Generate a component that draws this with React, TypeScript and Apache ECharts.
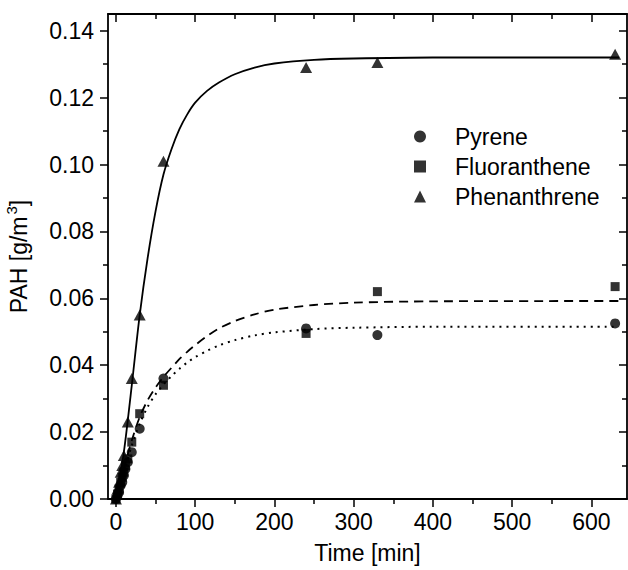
import React, { useEffect, useRef } from "react";
import * as echarts from "echarts";

// Measured data (time in min, PAH in g/m3)
const pyreneTime = [0, 2, 4, 6, 8, 10, 12, 15, 20, 30, 60, 240, 330, 630];
const pyreneVal = [0, 0.001, 0.002, 0.004, 0.005, 0.007, 0.009, 0.011, 0.014, 0.021, 0.036, 0.051, 0.049, 0.0525];

const fluorTime = [0, 2, 4, 6, 8, 10, 12, 15, 20, 30, 60, 240, 330, 630];
const fluorVal = [0, 0.0015, 0.003, 0.005, 0.0065, 0.008, 0.01, 0.012, 0.017, 0.0255, 0.034, 0.0495, 0.062, 0.0635];

const phenTime = [0, 2, 4, 6, 8, 10, 15, 20, 30, 60, 240, 330, 630];
const phenVal = [0, 0.003, 0.005, 0.008, 0.01, 0.013, 0.023, 0.036, 0.055, 0.101, 0.129, 0.1305, 0.133];

// Fitted curves
const phenFitTime = [0, 10, 20, 30, 40, 50, 60, 70, 80, 90, 100, 115, 130, 150, 175, 200, 250, 300, 400, 635];
const phenFitVal = [0, 0.014, 0.034, 0.055, 0.072, 0.086, 0.097, 0.1045, 0.1105, 0.115, 0.1185, 0.122, 0.1245, 0.127, 0.129, 0.1302, 0.1313, 0.1317, 0.132, 0.132];

const fluorFitTime = [0, 10, 20, 30, 40, 50, 60, 70, 80, 90, 100, 115, 130, 150, 175, 200, 250, 300, 400, 635];
const fluorFitVal = [0, 0.009, 0.0175, 0.0245, 0.0295, 0.0333, 0.0365, 0.0392, 0.0418, 0.044, 0.046, 0.0487, 0.051, 0.0532, 0.0552, 0.0566, 0.058, 0.0587, 0.0591, 0.0592];

const pyrFitTime = [0, 10, 20, 30, 40, 50, 60, 70, 80, 90, 100, 115, 130, 150, 175, 200, 250, 300, 400, 635];
const pyrFitVal = [0, 0.008, 0.016, 0.0225, 0.0275, 0.0313, 0.0342, 0.0367, 0.0389, 0.0408, 0.0424, 0.0443, 0.0459, 0.0475, 0.0489, 0.0498, 0.0508, 0.0512, 0.0515, 0.0515];

// Ticks
const xMajor = [0, 100, 200, 300, 400, 500, 600];
const xMinor = [50, 150, 250, 350, 450, 550];
const yMajor = [0, 0.02, 0.04, 0.06, 0.08, 0.1, 0.12, 0.14];
const yMinor = [0.01, 0.03, 0.05, 0.07, 0.09, 0.11, 0.13];

const zip = (a: number[], b: number[]) => a.map((v, i) => [v, b[i]]);

const FONT = "Liberation Sans";
const FS = 23;
const BLACK = "#000";

export default function App() {
  const ref = useRef<HTMLDivElement>(null);
  useEffect(() => {
    document.body.style.margin = "0";
    const chart = echarts.init(ref.current!, null, { renderer: "svg" });
    const X_MIN = -10;
    const X_MAX = 645;
    const Y_MIN = 0;
    const Y_MAX = 0.145;
    const lineStyle = { color: BLACK, width: 1.8 };
    const baseX = (position: string, ticks: number[], len: number, inside: boolean, showLine: boolean, labels: boolean, extra: any = {}) => ({
      type: "value",
      position,
      min: X_MIN,
      max: X_MAX,
      axisLine: { show: showLine, lineStyle, onZero: false },
      axisTick: { show: true, customValues: ticks, length: len, inside, lineStyle: { color: BLACK, width: 1.5 } },
      axisLabel: labels
        ? { show: true, customValues: ticks, fontFamily: FONT, fontSize: FS, color: BLACK, margin: 11 }
        : { show: false },
      splitLine: { show: false },
      ...extra,
    });
    const baseY = (position: string, ticks: number[], len: number, inside: boolean, showLine: boolean, labels: boolean, extra: any = {}) => ({
      type: "value",
      position,
      min: Y_MIN,
      max: Y_MAX,
      axisLine: { show: showLine, lineStyle, onZero: false },
      axisTick: { show: true, customValues: ticks, length: len, inside, lineStyle: { color: BLACK, width: 1.5 } },
      axisLabel: labels
        ? {
            show: true,
            customValues: ticks,
            fontFamily: FONT,
            fontSize: FS,
            color: BLACK,
            margin: 14,
            formatter: (v: number) => v.toFixed(2),
          }
        : { show: false },
      splitLine: { show: false },
      ...extra,
    });

    chart.setOption({
      animation: false,
      backgroundColor: "#fff",
      textStyle: { fontFamily: FONT },
      grid: { left: 108, right: 1, top: 14, bottom: 71, containLabel: false, outerBoundsMode: "none" },
      legend: {
        orient: "vertical",
        left: 409,
        top: 120,
        itemWidth: 12,
        itemHeight: 12,
        itemGap: 7,
        data: ["Pyrene", "Fluoranthene", "Phenanthrene"],
        textStyle: { fontFamily: FONT, fontSize: FS, color: BLACK, padding: [0, 0, 0, 24] },
      },
      xAxis: [
        baseX("bottom", xMajor, 8, false, true, true, {
          name: "Time [min]",
          nameLocation: "middle",
          nameGap: 42,
          nameTextStyle: { fontFamily: FONT, fontSize: FS, color: BLACK },
        }),
        baseX("bottom", xMinor, 5, false, false, false),
        baseX("top", xMajor, 8, true, true, false),
        baseX("top", xMinor, 5, true, false, false),
      ],
      yAxis: [
        baseY("left", yMajor, 8, false, true, true, {
          name: "PAH [g/m{sup|3}]",
          nameLocation: "middle",
          nameGap: 75,
          nameRotate: 90,
          nameTextStyle: {
            fontFamily: FONT,
            fontSize: FS,
            color: BLACK,
            rich: {
              sup: { fontFamily: FONT, fontSize: 15, color: BLACK, verticalAlign: "top", padding: [0, 0, 14, 2] },
            },
          },
        }),
        baseY("left", yMinor, 5, false, false, false),
        baseY("right", yMajor, 8, true, true, false),
        baseY("right", yMinor, 5, true, false, false),
      ],
      series: [
        {
          name: "Phenanthrene fit",
          type: "line",
          data: zip(phenFitTime, phenFitVal),
          smooth: 0.3,
          showSymbol: false,
          lineStyle: { color: BLACK, width: 1.8, type: "solid" },
          z: 2,
        },
        {
          name: "Fluoranthene fit",
          type: "line",
          data: zip(fluorFitTime, fluorFitVal),
          smooth: 0.3,
          showSymbol: false,
          lineStyle: { color: BLACK, width: 1.8, type: [9, 6] },
          z: 2,
        },
        {
          name: "Pyrene fit",
          type: "line",
          data: zip(pyrFitTime, pyrFitVal),
          smooth: 0.3,
          showSymbol: false,
          lineStyle: { color: BLACK, width: 2, type: [2, 5] },
          z: 2,
        },
        {
          name: "Pyrene",
          type: "scatter",
          symbol: "circle",
          symbolSize: 10,
          itemStyle: { color: BLACK },
          data: zip(pyreneTime, pyreneVal),
          z: 3,
        },
        {
          name: "Fluoranthene",
          type: "scatter",
          symbol: "rect",
          symbolSize: 9,
          itemStyle: { color: BLACK },
          data: zip(fluorTime, fluorVal),
          z: 3,
        },
        {
          name: "Phenanthrene",
          type: "scatter",
          symbol: "triangle",
          symbolSize: [12, 11],
          itemStyle: { color: BLACK },
          data: zip(phenTime, phenVal),
          z: 3,
        },
      ],
    });
    return () => chart.dispose();
  }, []);
  return <div ref={ref} style={{ width: 628, height: 570 }} />;
}
